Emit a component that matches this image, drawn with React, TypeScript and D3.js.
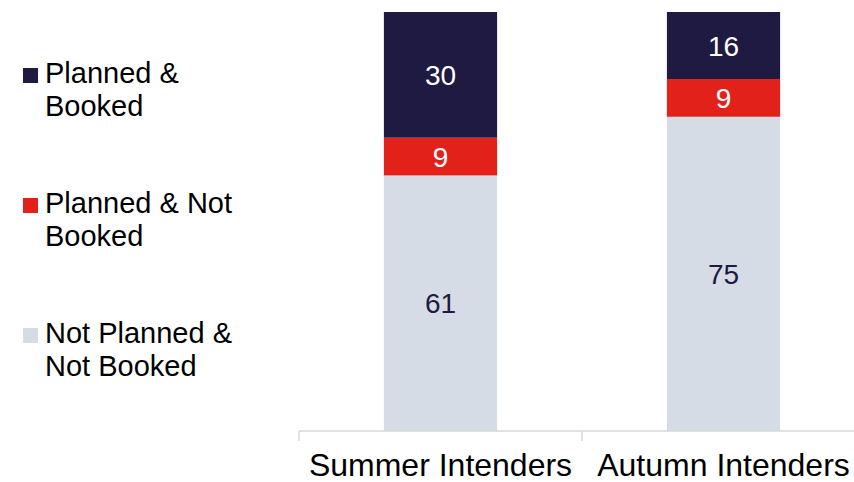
import * as d3 from "d3";

const categories = ["Summer Intenders", "Autumn Intenders"];
const seriesNames = ["Not Planned & Not Booked", "Planned & Not Booked", "Planned & Booked"];
const notPlannedNotBooked = [61, 75];
const plannedNotBooked = [9, 9];
const plannedBooked = [30, 16];
const legendLines = [
	["Planned &", "Booked"],
	["Planned & Not", "Booked"],
	["Not Planned &", "Not Booked"],
];

const colors: Record<string, string> = {
	"Not Planned & Not Booked": "#d6dce5",
	"Planned & Not Booked": "#e3211b",
	"Planned & Booked": "#1f1a42",
};
const labelColors: Record<string, string> = {
	"Not Planned & Not Booked": "#1f1a42",
	"Planned & Not Booked": "#ffffff",
	"Planned & Booked": "#ffffff",
};

const width = 854;
const height = 482;
const font = "'Liberation Sans', Arial, sans-serif";

export default function App() {
	const rows = categories.map((c, i) => ({
		category: c,
		"Not Planned & Not Booked": notPlannedNotBooked[i],
		"Planned & Not Booked": plannedNotBooked[i],
		"Planned & Booked": plannedBooked[i],
	}));

	const stack = d3.stack<any>().keys(seriesNames);
	const stacked = stack(rows);

	const x = d3
		.scaleBand()
		.domain(categories)
		.range([299, 865])
		.paddingInner(0.6)
		.paddingOuter(0.3);

	const y = d3.scaleLinear().domain([0, 100]).range([431, 12]);

	const axisY = y(0);
	// category boundaries for the tick marks
	const boundaries = [x.range()[0], ...categories.map((c) => (x(c) as number) + x.bandwidth() + (x.step() * 0.6) / 2)];

	// legend order: top to bottom = Planned & Booked first
	const legendOrder = [...seriesNames].reverse();
	const legendTop = [68, 198, 328];

	return (
		<svg
			width={width}
			height={height}
			style={{ position: "absolute", left: 0, top: 0, background: "#fff" }}
			fontFamily={font}
		>
			{stacked.map((layer) => (
				<g key={layer.key}>
					{layer.map((d, i) => {
						const cat = categories[i];
						const y0 = y(d[0]);
						const y1 = y(d[1]);
						return (
							<g key={cat}>
								<rect
									x={x(cat)}
									y={y1}
									width={x.bandwidth()}
									height={y0 - y1}
									fill={colors[layer.key]}
								/>
								<text
									x={(x(cat) as number) + x.bandwidth() / 2}
									y={(y0 + y1) / 2}
									dy="0.36em"
									textAnchor="middle"
									fontSize={28}
									fill={labelColors[layer.key]}
								>
									{d[1] - d[0]}
								</text>
							</g>
						);
					})}
				</g>
			))}

			<line x1={x.range()[0]} x2={x.range()[1]} y1={axisY} y2={axisY} stroke="#d9d9d9" strokeWidth={1.5} />
			{boundaries.map((b, i) => (
				<line key={i} x1={b} x2={b} y1={axisY} y2={axisY + 10} stroke="#d9d9d9" strokeWidth={1.5} />
			))}

			{categories.map((c) => (
				<text
					key={c}
					x={(x(c) as number) + x.bandwidth() / 2}
					y={476}
					textAnchor="middle"
					fontSize={32}
					fill="#000"
				>
					{c}
				</text>
			))}

			{legendOrder.map((s, i) => (
				<g key={s}>
					<rect x={23} y={legendTop[i]} width={15} height={15} fill={colors[s]} />
					{legendLines[i].map((line, j) => (
						<text key={j} x={45} y={legendTop[i] + 15 + j * 33} fontSize={29} fill="#000">
							{line}
						</text>
					))}
				</g>
			))}
		</svg>
	);
}
